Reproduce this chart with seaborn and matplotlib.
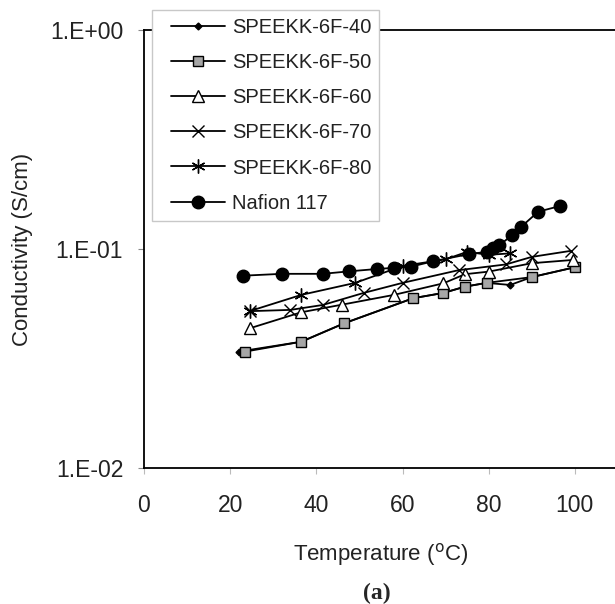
import numpy as np
import pandas as pd
import seaborn as sns
from matplotlib import pyplot as plt
from matplotlib.ticker import FixedLocator, NullLocator
from matplotlib.lines import Line2D
from matplotlib.legend_handler import HandlerLine2D

# values (temperature in C, conductivity in S/cm)
temp_40 = [22, 36.5, 46.5, 62.5, 69.5, 74.5, 79.5, 85, 90, 100]
cond_40 = [0.034, 0.0377, 0.0458, 0.0596, 0.063, 0.0673, 0.070, 0.0685, 0.0744, 0.0825]

temp_50 = [23.5, 36.5, 46.5, 62.5, 69.5, 74.5, 79.5, 90, 100]
cond_50 = [0.034, 0.0377, 0.0458, 0.0596, 0.063, 0.0673, 0.070, 0.0744, 0.0825]

temp_60 = [24.5, 36.5, 46, 58, 69.5, 74.5, 80, 90, 99.5]
cond_60 = [0.0434, 0.0514, 0.0557, 0.0617, 0.0697, 0.0767, 0.0788, 0.0861, 0.0891]

temp_70 = [24.5, 34, 41.5, 51, 60, 73, 84, 90, 99]
cond_70 = [0.052, 0.0527, 0.0555, 0.063, 0.070, 0.080, 0.085, 0.092, 0.098]

temp_80 = [24.5, 36.5, 49, 60, 70, 75, 80, 85]
cond_80 = [0.052, 0.0617, 0.070, 0.0836, 0.0897, 0.097, 0.094, 0.0955]

temp_naf = [23, 32, 41.5, 47.5, 54, 58, 62, 67, 75.5, 79.5, 81, 82.5, 85.5, 87.5, 91.5, 96.5]
cond_naf = [0.0755, 0.077, 0.077, 0.079, 0.081, 0.082, 0.083, 0.0878, 0.0948, 0.097,
            0.1008, 0.104, 0.116, 0.126, 0.148, 0.157]

names = ['SPEEKK-6F-40', 'SPEEKK-6F-50', 'SPEEKK-6F-60',
         'SPEEKK-6F-70', 'SPEEKK-6F-80', 'Nafion 117']
y_ticks = [0.01, 0.1, 1]
y_ticklabels = ['1.E-02', '1.E-01', '1.E+00']
x_ticks = [0, 20, 40, 60, 80, 100]

series = [(temp_40, cond_40), (temp_50, cond_50), (temp_60, cond_60),
          (temp_70, cond_70), (temp_80, cond_80), (temp_naf, cond_naf)]

# marker, size, face colour
styles = [('D', 3.5, 'black'),
          ('s', 7, '#a6a6a6'),
          ('^', 8, 'white'),
          ('x', 8, 'black'),
          ((6, 2, 0), 10, 'black'),
          ('o', 9, 'black')]

sns.set_theme(style='ticks')
plt.rcParams['font.family'] = ['Liberation Sans', 'DejaVu Sans']

fig = plt.figure(figsize=(6.15, 6.04), dpi=100)
ax = fig.add_axes([0.2341, 0.2252, 0.7707, 0.7252])

for name, (t, c), (mk, ms, fc) in zip(names, series, styles):
    df = pd.DataFrame({'T': t, 'C': c})
    sns.lineplot(data=df, x='T', y='C', ax=ax, color='black', lw=1.3,
                 marker=mk, markersize=ms, markerfacecolor=fc,
                 markeredgecolor='black', markeredgewidth=1.0,
                 estimator=None, sort=False, label=name, legend=False)

ax.set_yscale('log')
ax.set_ylim(0.01, 1)
ax.set_xlim(0, 110)
ax.yaxis.set_major_locator(FixedLocator(y_ticks))
ax.yaxis.set_minor_locator(NullLocator())
ax.set_yticklabels(y_ticklabels)
ax.set_xticks(x_ticks)

for s in ax.spines.values():
    s.set_color('black')
    s.set_linewidth(1.3)

ax.tick_params(axis='both', labelsize=16.5, colors='#222222', direction='out',
               length=4, width=0.8)
ax.tick_params(axis='x', pad=15, color='#bbbbbb')
ax.tick_params(axis='y', pad=11, color='#888888')

ax.set_xlabel('Temperature ($^{\\rm o}$C)', fontsize=16, color='#222222')
ax.xaxis.set_label_coords(0.5, -0.167)
ax.set_ylabel('Conductivity (S/cm)', fontsize=16, color='#222222')
ax.yaxis.set_label_coords(-0.234, 0.5)

# legend handle starts a bit in from the frame, as in the original
leg = ax.legend(loc='upper left', bbox_to_anchor=(0.247, 0.9834),
                bbox_transform=fig.transFigure, fontsize=14.5,
                frameon=True, fancybox=False, framealpha=1,
                edgecolor='#c8c8c8', borderpad=0.4, labelspacing=0.8,
                handlelength=3.23, handletextpad=0.35, borderaxespad=0,
                handler_map={Line2D: HandlerLine2D(xpad=0.55)})
leg.get_frame().set_linewidth(1.0)
for txt in leg.get_texts():
    txt.set_color('#222222')

fig.text(0.613, 0.018, '(a)', fontsize=17, fontweight='bold',
         family=['Liberation Serif', 'DejaVu Serif'], ha='center', va='center')

fig.savefig('out.png', dpi=100, facecolor='white')
